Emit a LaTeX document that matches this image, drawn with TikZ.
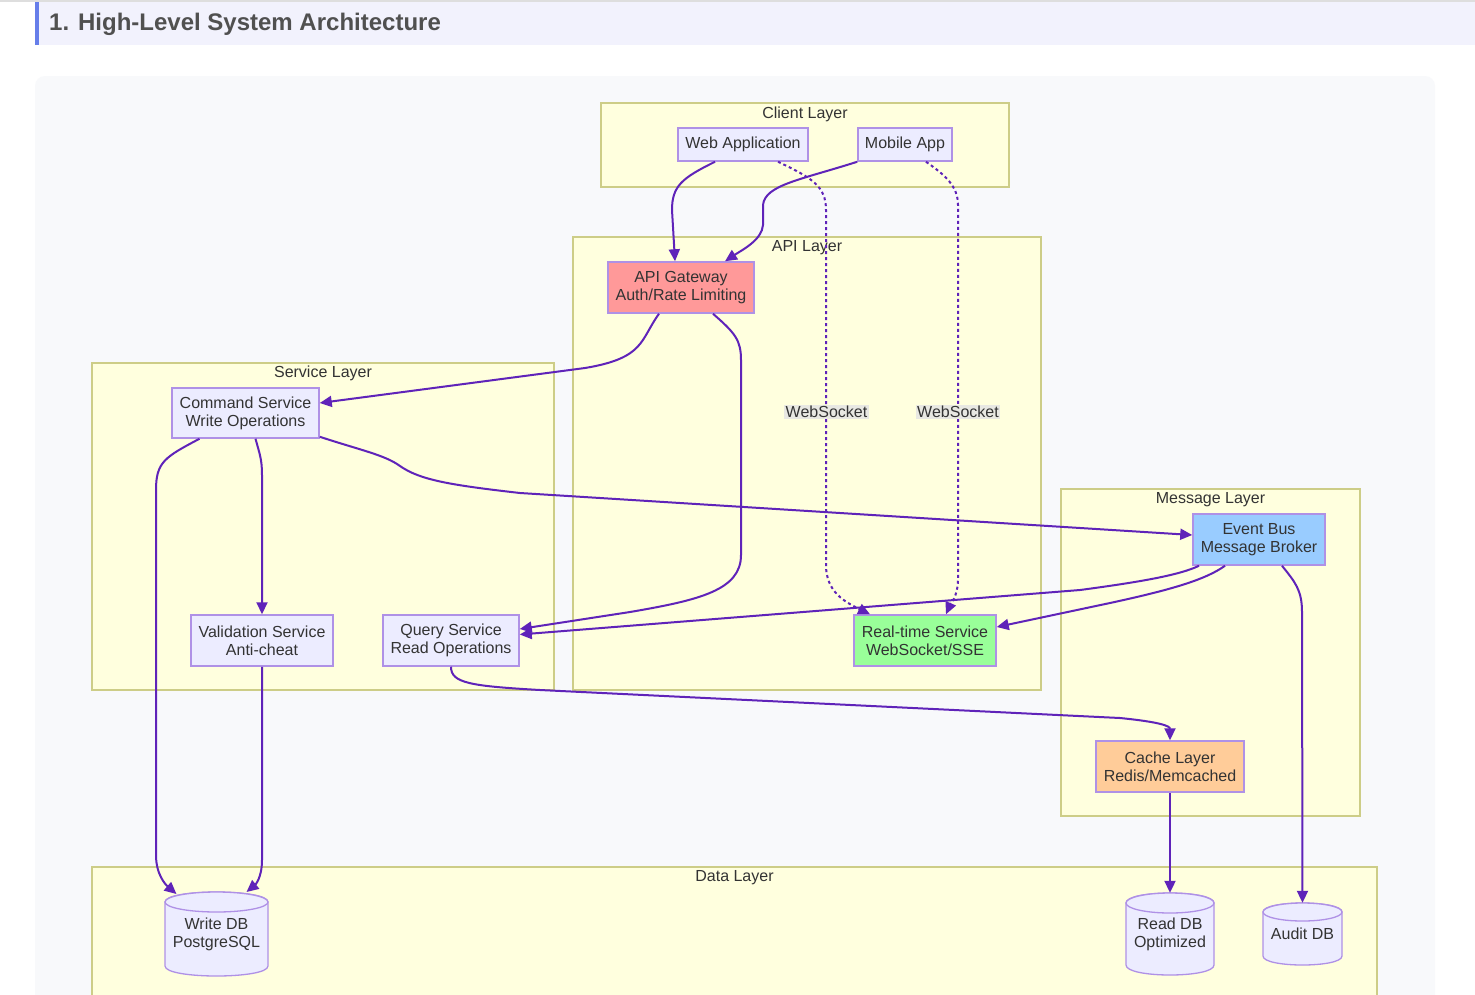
\documentclass[tikz,border=0pt]{standalone}
\usepackage{fontspec}
\setmainfont{Liberation Sans}
\usetikzlibrary{arrows.meta,calc}
\definecolor{edgec}{RGB}{95,35,185}
\definecolor{txt}{RGB}{51,51,51}
\definecolor{clfill}{RGB}{255,255,222}
\definecolor{clborder}{RGB}{205,205,135}
\definecolor{ndfill}{RGB}{236,236,255}
\definecolor{ndborder}{RGB}{175,145,230}
\definecolor{gwfill}{RGB}{255,153,153}
\definecolor{ebfill}{RGB}{153,204,255}
\definecolor{rtfill}{RGB}{153,255,153}
\definecolor{cafill}{RGB}{255,204,153}
\definecolor{lblfill}{RGB}{232,232,226}
\definecolor{outerbg}{RGB}{248,249,251}
\definecolor{headbg}{RGB}{242,242,253}
\definecolor{headbar}{RGB}{102,126,234}
\definecolor{titlec}{RGB}{80,80,80}
\definecolor{topline}{RGB}{222,222,222}
\newcommand\dbcyl[7]{% name, cx, cy, halfw, halfh, ry, text
  \pgfmathsetmacro\dbL{#2-#4}%
  \pgfmathsetmacro\dbR{#2+#4}%
  \pgfmathsetmacro\dbT{#3-#5+#6}%
  \pgfmathsetmacro\dbB{#3+#5-#6}%
  \pgfmathsetmacro\dbC{1.333*#6}%
  \filldraw[dbshape] (\dbL,\dbT) -- (\dbL,\dbB) .. controls +(0,\dbC) and +(0,\dbC) .. (\dbR,\dbB) -- (\dbR,\dbT) .. controls +(0,-\dbC) and +(0,-\dbC) .. cycle;
  \filldraw[dbshape] (#2,\dbT) ellipse [x radius=#4, y radius=#6];
  \node[dbtext, minimum width=2*#4, minimum height=2*#5] (#1) at (#2,#3) {#7};
}
\begin{document}
\begin{tikzpicture}[x=1pt,y=-1pt,
  every node/.style={font=\fontsize{16}{18}\selectfont, text=txt},
  cluster/.style={draw=clborder, fill=clfill, line width=1.5, inner sep=0pt},
  cltitle/.style={anchor=base, inner sep=0pt},
  box/.style={draw=ndborder, fill=ndfill, line width=1.5, align=center, inner sep=0pt},
  dbshape/.style={draw=ndborder, fill=ndfill, line width=1.3},
  dbtext/.style={align=center, inner sep=0pt},
  conn/.style={draw=edgec, line width=2, -{Triangle[length=12pt,width=11pt]}},
  ws/.style={conn, dash pattern=on 3pt off 3pt},
  lbl/.style={fill=lblfill, inner sep=1.5pt}]
\useasboundingbox (0,0) rectangle (1475,994);
\clip (0,0) rectangle (1475,994);
\fill[white] (0,0) rectangle (1475,994);
% heading
\fill[topline] (0,0) rectangle (1475,1.5);
\fill[headbg] (35,1.5) rectangle (1475,45);
\fill[headbar] (35,1.5) rectangle (39,45);
\node[anchor=base west, inner sep=0pt, font=\fontsize{24}{28}\selectfont\bfseries, text=titlec] (title) at (49,30) {1. High-Level System Architecture};
% outer panel
\fill[outerbg, rounded corners=10] (35,76) rectangle (1435,1040);
% clusters
\node[cluster, minimum width=408, minimum height=84] (client) at (805,145) {};
\node[cltitle] (clientT) at (805,118) {Client Layer};
\node[cluster, minimum width=468, minimum height=453] (api) at (807,463.5) {};
\node[cltitle] (apiT) at (807,251) {API Layer};
\node[cluster, minimum width=462, minimum height=327] (svc) at (323,526.5) {};
\node[cltitle] (svcT) at (323,377) {Service Layer};
\node[cluster, minimum width=299, minimum height=327] (msg) at (1210.5,652.5) {};
\node[cltitle] (msgT) at (1210.5,503) {Message Layer};
\node[cluster, minimum width=1285, minimum height=173] (data) at (734.5,953.5) {};
\node[cltitle] (dataT) at (734.5,881) {Data Layer};
% nodes
\node[box, minimum width=130, minimum height=33] (wa) at (743,144.5) {Web Application};
\node[box, minimum width=94, minimum height=33] (ma) at (905,144.5) {Mobile App};
\node[box, fill=gwfill, minimum width=146, minimum height=51] (gw) at (681,287.5) {API Gateway\\Auth/Rate Limiting};
\node[box, minimum width=147, minimum height=50] (cmd) at (245.5,413) {Command Service\\Write Operations};
\node[box, minimum width=142, minimum height=51] (val) at (262,640.5) {Validation Service\\Anti-cheat};
\node[box, minimum width=136, minimum height=51] (qs) at (451,640.5) {Query Service\\Read Operations};
\node[box, fill=rtfill, minimum width=142, minimum height=51] (rt) at (925,640.5) {Real-time Service\\WebSocket/SSE};
\node[box, fill=ebfill, minimum width=132, minimum height=51] (eb) at (1259,539.5) {Event Bus\\Message Broker};
\node[box, fill=cafill, minimum width=148, minimum height=51] (ca) at (1170,766.5) {Cache Layer\\Redis/Memcached};
\dbcyl{wdb}{216.5}{934}{51.5}{42}{10}{Write DB\\PostgreSQL}
\dbcyl{rdb}{1170}{934}{44}{41}{10}{Read DB\\Optimized}
\dbcyl{adb}{1302.5}{934}{39.5}{31}{9}{Audit DB}
% connectors
\draw[conn] ([xshift=-28]wa.south) .. controls (682,178) and (672,186) .. (672,210) -- ([xshift=-6]gw.north);
\draw[conn] (ma.south west) .. controls (800,180) and (765,185) .. (763,205) -- (763,225) .. controls (762,240) and (742,250) .. ([xshift=44]gw.north);
\draw[ws] ([xshift=35]wa.south) .. controls (812,178) and (826,186) .. (826,210) -- (826,565) .. controls (826,592) and (845,602) .. ([xshift=-55]rt.north);
\draw[ws] ([xshift=21]ma.south) .. controls (945,175) and (958,186) .. (958,205) -- (958,580) .. controls (958,596) and (950,605) .. ([xshift=21]rt.north);
\draw[conn] ([xshift=-22]gw.south) .. controls (640,340) and (645,358) .. (585,368) -- ([yshift=10]cmd.east);
\draw[conn] ([xshift=32]gw.south) .. controls (735,333) and (741,340) .. (741,360) -- (741,555) .. controls (741,590) and (700,600) .. (630,612) -- ([yshift=11.5]qs.east);
\draw[conn] ([xshift=10]cmd.south) .. controls (260,455) and (262,460) .. (262,475) -- (val.north);
\draw[conn] ([xshift=-46]cmd.south) .. controls (165,457) and (156,462) .. (156,490) -- (156,855) .. controls (156,875) and (166,885) .. ([xshift=-40,yshift=40]wdb.center);
\draw[conn] ([yshift=2]cmd.south east) .. controls (360,450) and (385,455) .. (400,466) .. controls (420,480) and (450,485) .. (520,493) -- ([yshift=4.5]eb.west);
\draw[conn] ([xshift=-60]eb.south) .. controls (1180,575) and (1140,582) .. (1080,590) -- ([yshift=6]qs.east);
\draw[conn] ([xshift=-34]eb.south) .. controls (1205,580) and (1170,590) .. (1110,603) -- ([yshift=13.5]rt.east);
\draw[conn] ([xshift=23]eb.south) .. controls (1295,582) and (1302,590) .. (1302,612) -- (adb.north);
\draw[conn] (val.south) -- (262,860) .. controls (262,878) and (255,885) .. ([xshift=30,yshift=42]wdb.center);
\draw[conn] (qs.south) .. controls (451,683) and (470,686) .. (540,690) -- (1120,718) .. controls (1160,722) and (1170,726) .. (ca.north);
\draw[conn] (ca.south) -- (rdb.north);
% labels
\node[lbl] (l1) at (826.5,412) {WebSocket};
\node[lbl] (l2) at (958,412) {WebSocket};
\end{tikzpicture}
\end{document}
